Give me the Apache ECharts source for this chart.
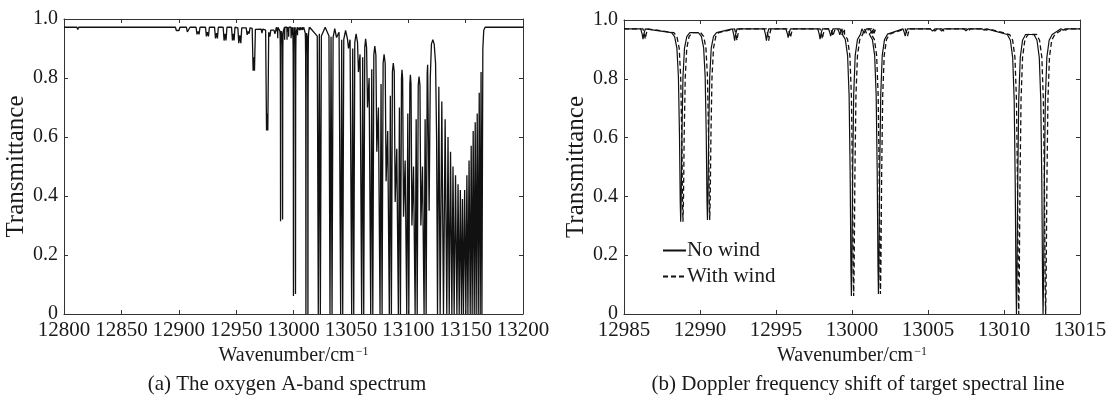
<!DOCTYPE html>
<html><head><meta charset="utf-8">
<script src="https://cdn.jsdelivr.net/npm/echarts@6/dist/echarts.min.js"></script>
<style>html,body{margin:0;padding:0;background:#fff}#c{width:1112px;height:397px}</style>
</head><body><div id="c"></div>
<script>
// ---------- Panel (a): oxygen A-band spectrum ----------
const baseA = 0.972;
// weak lines below 12985 cm^-1 : turning points
const lowWave = [12800, 12811.2, 12812, 12812.8, 12829.6, 12830.4, 12831.2, 12888.4, 12889.2, 12890,
  12897.1, 12897.9, 12899.1, 12900.2, 12901,
  12906.7, 12907.5, 12908.2, 12909, 12909.8,
  12915.1, 12915.9, 12916.8, 12917.7, 12918.5,
  12923.3, 12924.1, 12925, 12925.9, 12926.7,
  12931.2, 12932, 12932.9, 12933.7, 12934.5,
  12938.7, 12939.5, 12940.4, 12941.2, 12942,
  12946, 12946.8, 12947.5, 12948.2, 12949,
  12951.5, 12952.3, 12953.2, 12954.1, 12954.9,
  12958.8, 12959.6, 12960.4, 12961.3, 12962.1,
  12964, 12964.8, 12965.4, 12966, 12966.8,
  12971.8, 12972.5, 12973.2,
  12975.7, 12976.5, 12977.05, 12977.6, 12978.4, 12979.4, 12980.2,
  12983, 12983.8, 12984.6];
const lowTrans = [0.972, 0.972, 0.964, 0.972, 0.972, 0.968, 0.972, 0.972, 0.966, 0.972,
  0.972, 0.961, 0.966, 0.961, 0.972,
  0.972, 0.956, 0.962, 0.956, 0.972,
  0.972, 0.948, 0.958, 0.948, 0.972,
  0.972, 0.941, 0.955, 0.941, 0.972,
  0.972, 0.934, 0.952, 0.934, 0.972,
  0.972, 0.927, 0.95, 0.927, 0.972,
  0.972, 0.927, 0.95, 0.927, 0.972,
  0.97, 0.918, 0.945, 0.918, 0.97,
  0.97, 0.946, 0.958, 0.95, 0.97,
  0.968, 0.825, 0.87, 0.825, 0.965,
  0.966, 0.952, 0.966,
  0.962, 0.622, 0.68, 0.622, 0.955, 0.94, 0.962,
  0.962, 0.95, 0.962];
// P-branch doublets (first member), spacing of members, inner maximum
const pairWave = [13021.6, 13031.8, 13041.1, 13050.7, 13059.4, 13067.3, 13075.4, 13083.5, 13091.4, 13098.7, 13106.0, 13113.8];
const pairMin = [0, 0, 0, 0, 0, 0, 0, 0, 0, 0, 0, 0];
const pairInner = [0.95, 0.94, 0.93, 0.9, 0.87, 0.83, 0.78, 0.74, 0.7, 0.68, 0.66, 0.66];
const pairSpacing = 1.8;
// maxima of the arches following each doublet
const archTop = [0.972, 0.967, 0.961, 0.95, 0.933, 0.908, 0.88, 0.851, 0.828, 0.811, 0.805, 0.845];
// weaker satellite line in front of each doublet
const satWave = [null, null, 13038.3, 13047.9, 13056.6, 13064.5, 13072.6, 13080.7, 13088.6, 13095.9, 13103.2, 13111.0];
const satMin = [null, null, 0.94, 0.9, 0.82, 0.7, 0.55, 0.45, 0.38, 0.33, 0.3, 0.3];
const satRise = [null, null, 0.955, 0.93, 0.88, 0.8, 0.7, 0.62, 0.56, 0.52, 0.5, 0.5];
// band centre
const centerWave = [13118.2, 13119.2, 13120.2, 13121.4, 13122.6, 13123.8, 13124.7];
const centerTrans = [0.35, 0.8, 0.915, 0.93, 0.915, 0.85, 0.6];
// R-branch lines and the maxima between them
const rWave = [13125.5, 13127.8, 13130.7, 13133.6, 13135.7, 13138.0, 13140.0, 13142.4, 13144.4, 13146.4,
  13148.1, 13150.2, 13152.0, 13154.0, 13155.7, 13157.5, 13159.2, 13161.0, 13162.7, 13164.2];
const rMin = [0, 0, 0, 0, 0, 0, 0, 0, 0, 0, 0, 0, 0, 0, 0, 0, 0, 0, 0, 0];
const rPeak = [0.77, 0.72, 0.66, 0.6, 0.55, 0.5, 0.47, 0.44, 0.42, 0.39, 0.42, 0.47, 0.52, 0.57, 0.62, 0.65, 0.68, 0.75, 0.82];
// band head
const headWave = [13165.0, 13165.8, 13167.0, 13200];
const headTrans = [0.9, 0.962, 0.972, 0.972];

// ---------- Panel (b): Doppler shift of the target lines ----------
const baseB = 0.97;
const noWindWave = [12986.25, 12988.73, 12990.49, 12992.28, 12994.37, 12995.8, 12997.9, 12998.6, 12999.2, 12999.96,
  13000.8, 13001.3, 13001.74, 13003.5, 13005.3, 13005.9, 13007.5, 13008.7, 13010.82, 13012.57, 13013.9];
const windWave = [12986.4, 12988.88, 12990.64, 12992.43, 12994.52, 12995.95, 12998.05, 12998.75, 12999.35, 13000.11,
  13000.95, 13001.45, 13001.87, 13003.65, 13005.45, 13006.05, 13007.65, 13008.85, 13010.97, 13012.74, 13014.05];
const lineMin = [0.935, 0.314, 0.32, 0.93, 0.93, 0.94, 0.935, 0.945, 0.95, 0.061,
  0.955, 0.955, 0.068, 0.945, 0.962, 0.962, 0.963, 0.965, 0.0, 0.0, 0.965];
// line profile: offset from centre (cm^-1) and fraction of depth
const strongOffset = [-0.6, -0.4, -0.25, -0.15, -0.08, -0.03, 0, 0.03, 0.08, 0.15, 0.25, 0.4, 0.6];
const strongFrac = [0.02, 0.04, 0.1, 0.25, 0.55, 0.9, 1, 0.9, 0.55, 0.25, 0.1, 0.04, 0.02];
const weakOffset = [-0.15, -0.06, 0, 0.06, 0.15];
const weakFrac = [0, 0.5, 1, 0.5, 0];

function profileCurve(waves, mins, base, x0, x1) {
  const pts = [[x0, base]];
  waves.forEach((c, i) => {
    const m = mins[i];
    const strong = m < 0.9;
    const off = strong ? strongOffset : weakOffset;
    const fr = strong ? strongFrac : weakFrac;
    off.forEach((o, k) => pts.push([c + o, base - (base - m) * fr[k]]));
  });
  pts.push([x1, base]);
  return pts;
}

function bandA() {
  const pts = lowWave.map((w, i) => [w, lowTrans[i]]);
  profileCurve(noWindWave, lineMin, baseA, 12985, 13015).forEach(p => pts.push(p));
  let prevTop = baseA;
  pairWave.forEach((c, i) => {
    if (satWave[i] !== null) {
      pts.push([satWave[i] - 0.8, prevTop - 0.03]);
      pts.push([satWave[i], satMin[i]]);
      pts.push([(satWave[i] + c) / 2, satRise[i]]);
    } else {
      pts.push([c - 0.9, prevTop - 0.03]);
    }
    pts.push([c, pairMin[i]]);
    pts.push([c + pairSpacing / 2, pairInner[i]]);
    pts.push([c + pairSpacing, pairMin[i]]);
    const next = i + 1 < pairWave.length ? (satWave[i + 1] !== null ? satWave[i + 1] : pairWave[i + 1]) : centerWave[0];
    const end = c + pairSpacing;
    if (next - end > 2.5) pts.push([end + 0.9, archTop[i] - 0.03]);
    pts.push([(end + next) / 2, archTop[i]]);
    prevTop = archTop[i];
  });
  centerWave.forEach((w, i) => pts.push([w, centerTrans[i]]));
  rWave.forEach((w, i) => {
    pts.push([w, rMin[i]]);
    if (i < rPeak.length) pts.push([(w + rWave[i + 1]) / 2, rPeak[i]]);
  });
  headWave.forEach((w, i) => pts.push([w, headTrans[i]]));
  pts.sort((a, b) => a[0] - b[0]);
  return pts;
}

const FONT = '"Liberation Serif", "Times New Roman", serif';
const TXT = '#1a1a1a';
const AX = '#333';
const yFmt = v => (v === 0 ? '0' : v.toFixed(1));

function xAx(grid, min, max, interval, bottom) {
  return {
    type: 'value', gridIndex: grid, min, max, interval, position: bottom ? 'bottom' : 'top',
    axisLine: { show: true, onZero: false, lineStyle: { color: AX, width: 1 } },
    axisTick: { show: true, inside: true, length: 4, lineStyle: { color: AX } },
    axisLabel: { show: bottom, fontFamily: FONT, fontSize: 21, color: TXT, margin: 6, interval: 0,
      showMinLabel: true, showMaxLabel: true, hideOverlap: false, formatter: v => String(v) },
    splitLine: { show: false },
    name: bottom ? 'Wavenumber/cm{sup|−1}' : '', nameLocation: 'middle', nameGap: 32,
    nameTextStyle: { fontFamily: FONT, fontSize: 20, color: TXT,
      rich: { sup: { fontFamily: FONT, fontSize: 12, color: TXT, verticalAlign: 'top', padding: [0, 0, 8, 1] } } }
  };
}
function yAx(grid, left) {
  return {
    type: 'value', gridIndex: grid, min: 0, max: 1, interval: 0.2, position: left ? 'left' : 'right',
    axisLine: { show: true, onZero: false, lineStyle: { color: AX, width: 1 } },
    axisTick: { show: true, inside: true, length: 4, lineStyle: { color: AX } },
    axisLabel: { show: left, fontFamily: FONT, fontSize: 20, color: TXT, margin: 6, formatter: yFmt },
    splitLine: { show: false },
    name: left ? 'Transmittance' : '', nameLocation: 'middle', nameGap: 32,
    nameTextStyle: { fontFamily: FONT, fontSize: 25, color: TXT }
  };
}

const chart = echarts.init(document.getElementById('c'), null, { renderer: 'canvas' });
chart.setOption({
  animation: false,
  backgroundColor: '#fff',
  textStyle: { fontFamily: FONT },
  grid: [
    { left: 64, top: 19, width: 459, height: 295 },
    { left: 624, top: 20, width: 456, height: 294 }
  ],
  xAxis: [xAx(0, 12800, 13200, 50, true), xAx(0, 12800, 13200, 50, false),
          xAx(1, 12985, 13015, 5, true), xAx(1, 12985, 13015, 5, false)],
  yAxis: [yAx(0, true), yAx(0, false), yAx(1, true), yAx(1, false)],
  legend: {
    data: ['No wind', 'With wind'], orient: 'vertical', left: 657, top: 235,
    itemWidth: 23, itemHeight: 10, itemGap: 5,
    itemStyle: { color: 'rgba(0,0,0,0)', borderColor: 'rgba(0,0,0,0)', borderWidth: 0 },
    textStyle: { fontFamily: FONT, fontSize: 21, color: TXT, padding: [0, 0, 0, -4] }
  },
  graphic: [
    { type: 'text', x: 287, y: 384, style: { text: '(a) The oxygen A-band spectrum', font: '21px "Liberation Serif"', fill: TXT, textAlign: 'center', textVerticalAlign: 'middle' } },
    { type: 'text', x: 858, y: 384, style: { text: '(b) Doppler frequency shift of target spectral line', font: '21px "Liberation Serif"', fill: TXT, textAlign: 'center', textVerticalAlign: 'middle' } }
  ],
  series: [
    { type: 'line', name: 'A-band', xAxisIndex: 0, yAxisIndex: 0, data: bandA(), showSymbol: false, symbol: 'none',
      lineStyle: { color: '#111', width: 1.3 }, sampling: null },
    { type: 'line', name: 'No wind', xAxisIndex: 2, yAxisIndex: 2, data: profileCurve(noWindWave, lineMin, baseB, 12985, 13015),
      symbol: 'none', lineStyle: { color: '#111', width: 1.2 }, itemStyle: { color: '#111' } },
    { type: 'line', name: 'With wind', xAxisIndex: 2, yAxisIndex: 2, data: profileCurve(windWave, lineMin, baseB, 12985, 13015),
      symbol: 'none', lineStyle: { color: '#111', width: 1.3, type: [5, 3] }, itemStyle: { color: '#111' } }
  ]
});
</script></body></html>
